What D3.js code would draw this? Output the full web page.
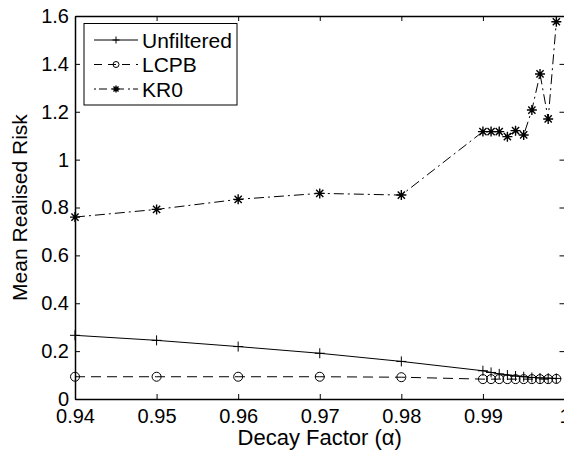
<!DOCTYPE html>
<html><head><meta charset="utf-8">
<script src="https://cdn.jsdelivr.net/npm/d3@7"></script>
<style>body{margin:0;background:#fff}svg{display:block}text{font-family:"Liberation Sans",Arial,Helvetica,sans-serif}</style>
</head><body><div id="chart"></div>
<script>
const alphas = [0.94,0.95,0.96,0.97,0.98,0.99,0.991,0.992,0.993,0.994,0.995,0.996,0.997,0.998,0.999];
const unfiltered = [0.266,0.245,0.219,0.191,0.157,0.118,0.111,0.105,0.100,0.096,0.093,0.090,0.088,0.087,0.086];
const lcpb = [0.093,0.093,0.093,0.093,0.091,0.083,0.083,0.083,0.083,0.083,0.083,0.083,0.083,0.083,0.084];
const kr0 = [0.760,0.792,0.834,0.859,0.852,1.117,1.117,1.117,1.096,1.121,1.103,1.207,1.358,1.170,1.576];
const xTicks = [0.94,0.95,0.96,0.97,0.98,0.99,1];
const yTicks = [0,0.2,0.4,0.6,0.8,1,1.2,1.4,1.6];
const seriesNames = ["Unfiltered","LCPB","KR0"];

const W=564,H=451;
const L=75,R=564.5,T=16,B=399;
const svg=d3.select("#chart").append("svg").attr("width",W).attr("height",H);
const x=d3.scaleLinear().domain([0.94,1]).range([L,R]);
const y=d3.scaleLinear().domain([0,1.6]).range([B,T]);
const fmt=d=>d===0?"0":d===1?"1":String(d);
const FS=20;

// axes
const tl=5;
const gb=svg.append("g").attr("transform",`translate(0,${B})`).call(d3.axisBottom(x).tickValues(xTicks).tickFormat(fmt).tickSizeInner(-tl).tickSizeOuter(0).tickPadding(10));
const gt=svg.append("g").attr("transform",`translate(0,${T})`).call(d3.axisTop(x).tickValues(xTicks).tickFormat("").tickSizeInner(-tl).tickSizeOuter(0));
const gl=svg.append("g").attr("transform",`translate(${L},0)`).call(d3.axisLeft(y).tickValues(yTicks).tickFormat(fmt).tickSizeInner(-tl).tickSizeOuter(0).tickPadding(6));
const gr=svg.append("g").attr("transform",`translate(${R},0)`).call(d3.axisRight(y).tickValues(yTicks).tickFormat("").tickSizeInner(-tl).tickSizeOuter(0));
[gb,gt,gl,gr].forEach(g=>{g.selectAll(".domain").attr("stroke","#000").attr("stroke-width",1.5);g.selectAll(".tick line").attr("stroke","#000").attr("stroke-width",1);g.selectAll("text").attr("font-size",FS).attr("fill","#000").style("font-family","'Liberation Sans',Arial,sans-serif");});

// labels
svg.append("text").attr("x",(L+R)/2).attr("y",445).attr("text-anchor","middle").attr("font-size",22).text("Decay Factor (α)");
svg.append("text").attr("transform",`translate(27,${(T+B)/2}) rotate(-90)`).attr("text-anchor","middle").attr("font-size",21).text("Mean Realised Risk");

const data=[unfiltered,lcpb,kr0];
const dashes=[null,"10,6","10,4,2,4"];
const line=d3.line().x((d,i)=>x(alphas[i])).y(d=>y(d));
const plot=svg.append("g");
function marker(g,type,cx,cy,s){
  if(type===0){
    g.append("path").attr("d",`M${cx-s},${cy}H${cx+s}M${cx},${cy-s}V${cy+s}`).attr("stroke","#000").attr("stroke-width",1);
  }else if(type===1){
    g.append("circle").attr("cx",cx).attr("cy",cy).attr("r",s).attr("fill","none").attr("stroke","#000").attr("stroke-width",1);
  }else{
    const d=s*0.72;
    g.append("path").attr("d",`M${cx-s},${cy}H${cx+s}M${cx},${cy-s}V${cy+s}M${cx-d},${cy-d}L${cx+d},${cy+d}M${cx-d},${cy+d}L${cx+d},${cy-d}`).attr("stroke","#000").attr("stroke-width",1.4);
  }
}
data.forEach((vals,k)=>{
  const p=plot.append("path").datum(vals).attr("d",line).attr("fill","none").attr("stroke","#000").attr("stroke-width",1);
  if(dashes[k])p.attr("stroke-dasharray",dashes[k]);
  vals.forEach((v,i)=>marker(plot,k,x(alphas[i]),y(v),k===1?4.5:5));
});

// legend
const lg=svg.append("g");
lg.append("rect").attr("x",84).attr("y",23.5).attr("width",153).attr("height",81.5).attr("fill","#fff").attr("stroke","#000").attr("stroke-width",1);
const rows=[40,64.5,89];
seriesNames.forEach((n,k)=>{
  const p=lg.append("path").attr("d",`M94,${rows[k]}H138`).attr("stroke","#000").attr("stroke-width",1);
  if(dashes[k])p.attr("stroke-dasharray",k===1?"8,6":"2,3,8,4");
  marker(lg,k,116,rows[k],k===1?3:3.5);
  lg.append("text").attr("x",142).attr("y",rows[k]+7.5).attr("font-size",21).text(n);
});
</script></body></html>
